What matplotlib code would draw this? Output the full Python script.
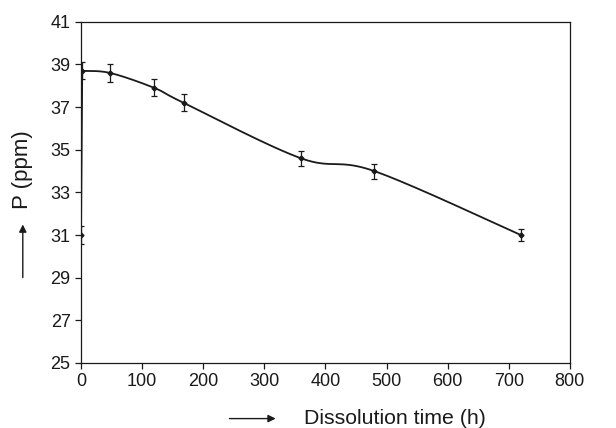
import numpy as np
import matplotlib
matplotlib.use("Agg")
import matplotlib.pyplot as plt
from matplotlib.patches import FancyArrowPatch

plt.rcParams['font.family'] = ['Liberation Sans', 'DejaVu Sans']

# data
time_h = [0, 2, 48, 120, 168, 360, 480, 720]
p_ppm = [31.0, 38.7, 38.6, 37.9, 37.2, 34.6, 34.0, 31.0]
p_err = [0.4, 0.4, 0.4, 0.4, 0.4, 0.35, 0.35, 0.3]

x_ticks = list(range(0, 801, 100))
y_ticks = list(range(25, 42, 2))


def smooth_line(x, y, n=40):
    # bezier smoothing through the points (like excel's smoothed line)
    x = np.asarray(x, float)
    y = np.asarray(y, float)
    px = np.concatenate([[x[0]], x, [x[-1]]])
    py = np.concatenate([[y[0]], y, [y[-1]]])
    xs, ys = [], []
    t = np.linspace(0, 1, n)
    for i in range(1, len(px) - 2):
        p0 = np.array([px[i], py[i]])
        p3 = np.array([px[i + 1], py[i + 1]])
        c1 = p0 + (np.array([px[i + 1], py[i + 1]]) - np.array([px[i - 1], py[i - 1]])) / 6
        c2 = p3 - (np.array([px[i + 2], py[i + 2]]) - np.array([px[i], py[i]])) / 6
        b = ((1 - t) ** 3)[:, None] * p0 + (3 * (1 - t) ** 2 * t)[:, None] * c1 \
            + (3 * (1 - t) * t ** 2)[:, None] * c2 + (t ** 3)[:, None] * p3
        xs.extend(b[:, 0])
        ys.extend(b[:, 1])
    return xs, ys


fig = plt.figure(figsize=(6.16, 4.28), dpi=100)
ax = fig.add_axes([0.1315, 0.152, 0.7935, 0.797])

col = '#1a1a1a'
# first jump is drawn straight, rest smoothed
ax.plot(time_h[:2], p_ppm[:2], color=col, lw=1.3)
sx, sy = smooth_line(time_h[1:], p_ppm[1:])
ax.plot(sx, sy, color=col, lw=1.3)
ax.errorbar(time_h, p_ppm, yerr=p_err, fmt='D', ms=2.5, color=col,
            ecolor=col, elinewidth=0.9, capsize=2, capthick=0.9)

ax.set_xlim(0, 800)
ax.set_ylim(25, 41)
ax.set_xticks(x_ticks)
ax.set_yticks(y_ticks)
ax.tick_params(direction='out', length=4, width=0.9, labelsize=13, colors=col)
for s in ax.spines.values():
    s.set_linewidth(0.9)
    s.set_color(col)

# axis titles with arrows
fig.text(0.641, 0.023, 'Dissolution time (h)', fontsize=15.3, ha='center', va='center', color=col)
fig.add_artist(FancyArrowPatch((0.368, 0.022), (0.452, 0.022),
               transform=fig.transFigure, arrowstyle='-|>', mutation_scale=11,
               color=col, lw=1))
fig.text(0.037, 0.603, 'P (ppm)', fontsize=16, rotation=90, ha='center', va='center', color=col)
fig.add_artist(FancyArrowPatch((0.037, 0.345), (0.037, 0.482),
               transform=fig.transFigure, arrowstyle='-|>', mutation_scale=11,
               color=col, lw=1))

fig.savefig('out.png', dpi=100)
